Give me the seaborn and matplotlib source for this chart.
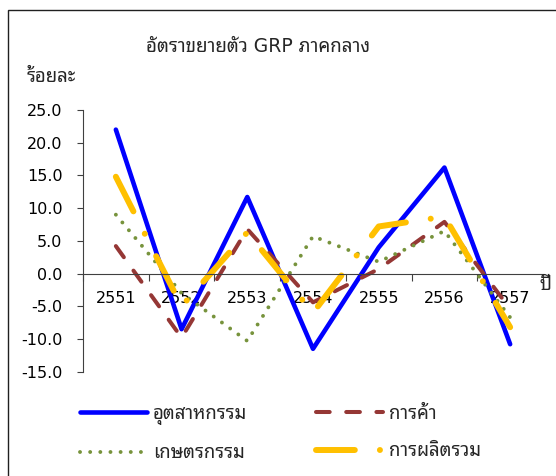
import matplotlib
matplotlib.use("Agg")
import matplotlib.pyplot as plt
from matplotlib.patches import Rectangle
from matplotlib.ticker import FormatStrFormatter
import numpy as np
import seaborn as sns

# GRP growth, central region (percent)
years = ["2551", "2552", "2553", "2554", "2555", "2556", "2557"]
industry = [22.0, -8.5, 11.7, -11.5, 4.0, 16.2, -10.8]
trade = [4.2, -9.8, 6.8, -4.4, 0.7, 7.9, -5.4]
agri = [9.0, -3.0, -10.3, 5.7, 1.8, 6.5, -6.7]
total = [14.8, -5.0, 6.3, -6.0, 7.2, 8.7, -8.2]
names = ["อุตสาหกรรม", "การค้า", "เกษตรกรรม", "การผลิตรวม"]
yticks = [-15, -10, -5, 0, 5, 10, 15, 20, 25]

sns.set_theme(style="white")
plt.rcParams['font.family'] = ['DejaVu Sans', 'Noto Sans Thai Looped']

W, H = 556, 476
fig = plt.figure(figsize=(W / 100, H / 100), dpi=100)
ax = fig.add_axes([83 / W, 1 - 371.7 / H, 460 / W, (371.7 - 110) / H])

styles = [
    dict(color="#0000FF", linewidth=3.3, linestyle="-"),
    dict(color="#953735", linewidth=2.9, linestyle=(0, (3.4, 4.1))),
    dict(color="#77933C", linewidth=2.8, linestyle=(0, (0.01, 2.6))),
    dict(color="#FFC000", linewidth=4.3, linestyle=(0, (6.5, 4.2, 0.01, 4.2))),
]
xpos = np.arange(len(years))
for vals, name, st in zip([industry, trade, agri, total], names, styles):
    sns.lineplot(x=xpos, y=vals, ax=ax, label=name, dash_capstyle="round",
                 solid_capstyle="round", solid_joinstyle="round", **st)

ax.set_xlim(-0.5, len(years) - 0.5)
ax.set_ylim(yticks[0], yticks[-1])
ax.set_yticks(yticks)
ax.yaxis.set_major_formatter(FormatStrFormatter("%.1f"))
ax.set_xticks(xpos)
ax.set_xticklabels(years)
ax.set_xticks(np.arange(-0.5, len(years)), minor=True)
ax.set_xlabel("")
ax.set_ylabel("")

for s in ["top", "right"]:
    ax.spines[s].set_visible(False)
ax.spines["bottom"].set_position(("data", 0))
for s in ["bottom", "left"]:
    ax.spines[s].set_color("#404040")
    ax.spines[s].set_linewidth(0.8)

ax.tick_params(axis="y", left=True, direction="out", length=4.3, width=0.8,
               color="#404040", pad=10.5, labelsize=11.5, labelcolor="black")
ax.tick_params(axis="x", which="major", bottom=True, length=0, pad=12.5,
               labelsize=11.5, labelcolor="black")
ax.tick_params(axis="x", which="minor", bottom=True, direction="out", length=5,
               width=0.8, color="#404040")

# legend, row by row like the original
h = ax.get_lines()
order = [0, 2, 1, 3]
if ax.get_legend() is not None:
    ax.get_legend().remove()
fig.legend([h[i] for i in order], [names[i] for i in order], ncol=2,
           loc="upper left", bbox_to_anchor=(80 / W, 1 - 404 / H), frameon=False,
           fontsize=13.4, handlelength=3.6, handletextpad=0.32, columnspacing=3.7,
           labelspacing=0.98, borderpad=0, borderaxespad=0)

fig.text(258 / W, 1 - 47 / H, "อัตราขยายตัว GRP ภาคกลาง", ha="center", va="center",
         fontsize=13.5)
fig.text(27 / W, 1 - 77 / H, "ร้อยละ", ha="left", va="center", fontsize=13.4,
         fontweight="bold")
fig.text(539 / W, 1 - 285 / H, "ปี", ha="left", va="center", fontsize=13.4)

fig.patches.append(Rectangle((8 / W, -0.1), 1.2, 1.1 - 10 / H, transform=fig.transFigure,
                             fill=False, edgecolor="#202020", linewidth=1.0))

fig.savefig("out.png", dpi=100)
